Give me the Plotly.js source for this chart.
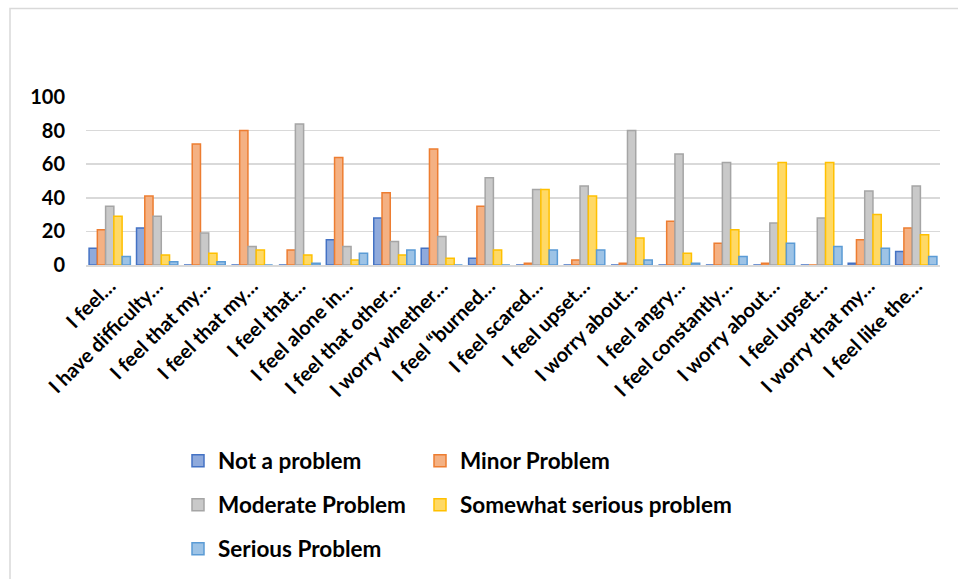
<!DOCTYPE html>
<html>
<head>
<meta charset="utf-8">
<script src="https://cdn.plot.ly/plotly-3.0.1.min.js"></script>
<style>html,body{margin:0;padding:0;background:#fff;}#chart{width:958px;height:579px;}</style>
</head>
<body>
<div id="chart"></div>
<script>
const categories = ["I feel…","I have difficulty…","I feel that my…","I feel that my…","I feel that…","I feel alone in…","I feel that other…","I worry whether…","I feel “burned…","I feel scared…","I feel upset…","I worry about…","I feel angry…","I feel constantly…","I worry about…","I feel upset…","I worry that my…","I feel like the…"];
const notAProblem      = [10,22,0,0,0,15,28,10,4,0,0,0,0,0,0,0,1,8];
const minorProblem     = [21,41,72,80,9,64,43,69,35,1,3,1,26,13,1,0,15,22];
const moderateProblem  = [35,29,19,11,84,11,14,17,52,45,47,80,66,61,25,28,44,47];
const somewhatSerious  = [29,6,7,9,6,3,6,4,9,45,41,16,7,21,61,61,30,18];
const seriousProblem   = [5,2,2,0,1,7,9,0,0,9,9,3,1,5,13,11,10,5];
const seriesNames = ["Not a problem","Minor Problem","Moderate Problem","Somewhat serious problem","Serious Problem"];
const yTicks = [0,20,40,60,80,100];

const fills = ["#8FAADC","#F4B183","#C9C9C9","#FFD966","#9DC3E6"];
const lines = ["#4472C4","#ED7D31","#A5A5A5","#FFC000","#5B9BD5"];
const allSeries = [notAProblem, minorProblem, moderateProblem, somewhatSerious, seriousProblem];
const legendIds = ["legend","legend2","legend3","legend4","legend5"];

const xIdx = categories.map((c,i)=>i);

const traces = allSeries.map((vals,k)=>({
  type:"bar",
  name: seriesNames[k],
  legend: legendIds[k],
  x: xIdx,
  y: vals,
  marker:{color: fills[k], line:{color: lines[k], width:1.5}},
  hoverinfo:"y+name"
}));

const W=958,H=579, L=86, R=18, T=97, B=313;
const pw=W-L-R, ph=H-T-B;
const px=(x)=>(x-L)/pw, py=(y)=>(H-B-y)/ph;

const font = "Lato, 'Open Sans', sans-serif";
const legFont = {family:font,size:22.5,color:"#000",weight:700};
function leg(xl, yc){
  return {orientation:"h", x:px(xl), y:py(yc), xanchor:"left", yanchor:"middle",
    font:legFont, itemwidth:30, bgcolor:"rgba(0,0,0,0)"};
}
const colX = [178, 420];
const rowY = [461, 505, 549];
const layout = {
  width:W, height:H,
  margin:{l:L,r:R,t:T,b:B,pad:0},
  paper_bgcolor:"#fff", plot_bgcolor:"#fff",
  font:{family:font, color:"#000", size:20, weight:700},
  barmode:"group", bargap:0.13, bargroupgap:0,
  showlegend:true,
  xaxis:{
    type:"linear",
    tickmode:"array", tickvals:xIdx, ticktext:categories,
    range:[-0.5, categories.length-0.5],
    tickangle:-45, showgrid:false, zeroline:false,
    showline:true, linecolor:"#d9d9d9", linewidth:1.5,
    ticks:"", tickfont:{family:font,size:20,color:"#000",weight:700}
  },
  yaxis:{
    range:[0,100], tickmode:"array", tickvals:yTicks,
    showgrid:true, gridcolor:"#d9d9d9", gridwidth:1.5,
    zeroline:false, showline:false, ticks:"",
    ticklabelstandoff:20,
    tickfont:{family:font,size:20,color:"#000",weight:700}
  },
  legend:  leg(colX[0], rowY[0]),
  legend2: leg(colX[1], rowY[0]),
  legend3: leg(colX[0], rowY[1]),
  legend4: leg(colX[1], rowY[1]),
  legend5: leg(colX[0], rowY[2]),
  shapes:[{
    type:"rect", xref:"paper", yref:"paper", layer:"below",
    x0:px(10), x1:px(W+5), y0:py(H+5), y1:py(8),
    line:{color:"#d9d9d9", width:1.5}, fillcolor:"rgba(0,0,0,0)"
  }]
};

Plotly.newPlot("chart", traces, layout, {displayModeBar:false, staticPlot:true});
</script>
</body>
</html>
